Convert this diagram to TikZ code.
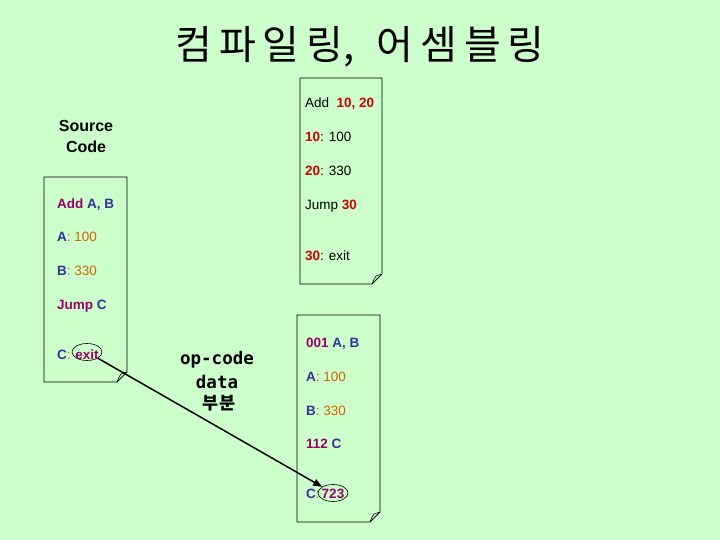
\documentclass[tikz,border=0pt]{standalone}
\usepackage{fontspec}
\setmainfont{Liberation Sans}
\setmonofont{DejaVu Sans Mono}
\newfontfamily\kr{Noto Sans CJK KR}
\usetikzlibrary{shapes.geometric,arrows.meta}
\definecolor{bg}{HTML}{CCFFCC}
\definecolor{mg}{HTML}{990066}
\definecolor{bl}{HTML}{333399}
\definecolor{og}{HTML}{CC6600}
\definecolor{rd}{HTML}{CC0000}
\newcommand{\foldbox}[4]{% left top right bottom
  \draw[black, line width=0.8pt] (#1,#2) -- (#3,#2) -- (#3,#4-10) -- (#3-10,#4) -- (#1,#4) -- cycle;
  \draw[black, line width=0.6pt] (#3-10,#4) .. controls (#3-8,#4-5) .. (#3-6,#4-8) -- (#3,#4-10);
}
\newcommand{\tg}{\hspace{7pt}}
\begin{document}
\begin{tikzpicture}[x=1pt,y=-1pt,
  ln/.style={anchor=base west, inner sep=0pt, font=\fontsize{13.5}{15}\selectfont},
  ctr/.style={anchor=base, inner sep=0pt},
  ring/.style={draw, ellipse, inner sep=0pt, minimum width=30pt, minimum height=17pt, line width=0.6pt}]
\useasboundingbox (0,0) rectangle (720,540);
\fill[bg] (0,0) rectangle (720,540);

% title
\node[inner sep=0pt] (title) at (360,47) {\kr\fontsize{40}{44}\selectfont 컴\tg 파\tg 일\tg 링,\hspace{22pt}어\tg 셈\tg 블\tg 링};

% Source Code
\node[ctr, font=\bfseries\fontsize{16}{18}\selectfont] (src1) at (86,132) {Source};
\node[ctr, font=\bfseries\fontsize{16}{18}\selectfont] (src2) at (86,153) {Code};

% boxes
\foldbox{44}{177}{127}{382}
\foldbox{300}{78}{382}{284}
\foldbox{297}{315}{380}{522}

% left box text
\node[ln] (l1) at (57,208) {\bfseries\textcolor{mg}{Add} \textcolor{bl}{A, B}};
\node[ln] (l2) at (57,241) {\textcolor{bl}{\bfseries A}\textcolor{og}{: 100}};
\node[ln] (l3) at (57,275) {\textcolor{bl}{\bfseries B}\textcolor{og}{: 330}};
\node[ln] (l4) at (57,309) {\bfseries\textcolor{mg}{Jump} \textcolor{bl}{C}};
\node[ln] (l5) at (57,359) {\textcolor{bl}{\bfseries C}\textcolor{og}{:}};
\node[ring] (exit) at (87,352) {};
\node[ctr, font=\bfseries\fontsize{13.5}{15}\selectfont, text=mg] (exitt) at (87,359) {exit};

% right upper text
\node[ln] (r1) at (305,108) {Add\ \ \textcolor{rd}{\bfseries 10, 20}};
\node[ln] (r2) at (305,142) {\textcolor{rd}{\bfseries 10}: 100};
\node[ln] (r3) at (305,176) {\textcolor{rd}{\bfseries 20}: 330};
\node[ln] (r4) at (305,210) {Jump \textcolor{rd}{\bfseries 30}};
\node[ln] (r5) at (305,260) {\textcolor{rd}{\bfseries 30}: exit};

% lower right text
\node[ln] (m1) at (306,347) {\bfseries\textcolor{mg}{001} \textcolor{bl}{A, B}};
\node[ln] (m2) at (306,381) {\textcolor{bl}{\bfseries A}\textcolor{og}{: 100}};
\node[ln] (m3) at (306,415) {\textcolor{bl}{\bfseries B}\textcolor{og}{: 330}};
\node[ln] (m4) at (306,448) {\bfseries\textcolor{mg}{112} \textcolor{bl}{C}};
\node[ln] (m5) at (306,498) {\textcolor{bl}{\bfseries C}\textcolor{og}{:}};
\node[ring] (num) at (333,493) {};
\node[ctr, font=\bfseries\fontsize{13.5}{15}\selectfont, text=mg] (numt) at (333,498) {723};

% middle label
\node[ctr, font=\ttfamily\bfseries\fontsize{17.5}{20}\selectfont] (op1) at (217,364) {op-code};
\node[ctr, font=\ttfamily\bfseries\fontsize{17.5}{20}\selectfont] (op2) at (217,388) {data};
\node[ctr, font=\kr\bfseries\fontsize{17.5}{20}\selectfont] (op3) at (219,409) {부분};

% arrow
\draw[line width=1.5pt, -{Triangle[length=9pt,width=7pt]}] (exit) -- (num);
\end{tikzpicture}
\end{document}
